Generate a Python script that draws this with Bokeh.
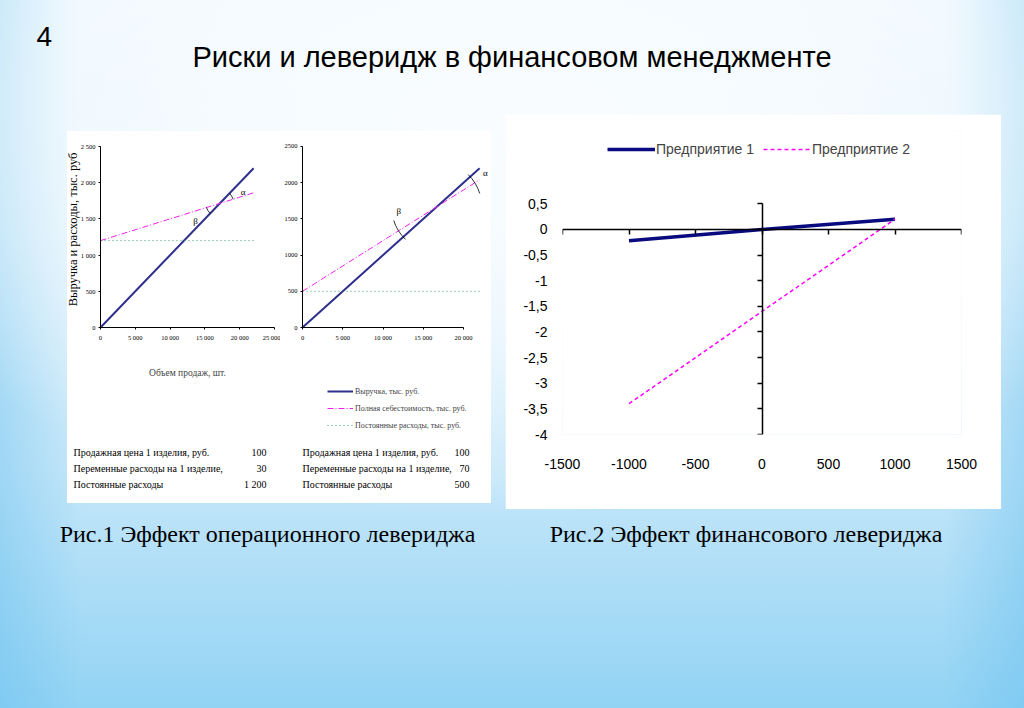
import math
from bokeh.plotting import figure
from bokeh.models import Range1d, LinearAxis, FixedTicker, Legend, LegendItem, Spacer
from bokeh.layouts import column, row
from bokeh.core.properties import value
from bokeh.embed import file_html
from bokeh.resources import INLINE

# ------------------------------------------------------------------ data
slide_number = "4"
slide_title = "Риски и леверидж в финансовом менеджменте"
caption1 = "Рис.1 Эффект операционного левериджа"
caption2 = "Рис.2 Эффект финансового левериджа"

# Fig. 1 - operating leverage (two firms)
volume = [0, 22000]
revenue = [0, 2200]
full_cost_a = [1200, 1860]
fixed_cost_a = [1200, 1200]
full_cost_b = [500, 2040]
fixed_cost_b = [500, 500]
op_y_ticks = [0, 500, 1000, 1500, 2000, 2500]
op_y_labels_a = ["0", "500", "1 000", "1 500", "2 000", "2 500"]
op_y_labels_b = ["0", "500", "1000", "1500", "2000", "2500"]
op_x_ticks_a = [0, 5000, 10000, 15000, 20000, 25000]
op_x_labels_a = ["0", "5 000", "10 000", "15 000", "20 000", "25 000"]
op_x_ticks_b = [0, 5000, 10000, 15000, 20000]
op_x_labels_b = ["0", "5 000", "10 000", "15 000", "20 000"]
op_x_title = "Объем продаж, шт."
op_y_title = "Выручка и расходы, тыс. руб"
op_legend = ["Выручка, тыс. руб.", "Полная себестоимость, тыс. руб.",
             "Постоянные расходы, тыс. руб."]
table_labels = ["Продажная цена 1 изделия, руб.", "Переменные расходы на 1 изделие,",
                "Постоянные расходы"]
table_values_a = ["100", "30", "1 200"]
table_values_b = ["100", "70", "500"]

# Fig. 2 - financial leverage
fin_x = [-1000, 0, 1000]
firm1 = [-0.22, 0.0, 0.2]
firm2 = [-3.4, -1.6, 0.2]
fin_series = ["Предприятие 1", "Предприятие 2"]
fin_x_ticks = [-1500, -1000, -500, 0, 500, 1000, 1500]
fin_x_labels = ["-1500", "-1000", "-500", "0", "500", "1000", "1500"]
fin_y_ticks = [0.5, 0, -0.5, -1, -1.5, -2, -2.5, -3, -3.5, -4]
fin_y_labels = ["0,5", "0", "-0,5", "-1", "-1,5", "-2", "-2,5", "-3", "-3,5", "-4"]

# ------------------------------------------------------------------ styles
SERIF = "Liberation Serif"
SANS = "Liberation Sans"
BLUE_OP = "#2e2e8c"
MAGENTA = "#f020f0"
GREEN = "#3c9a6c"
OP_Y_RANGE = (-1450, 2707)   # frame spans the whole chart area, incl. the legend space


def canvas(w, h, white=False):
    p = figure(width=w, height=h, x_range=Range1d(0, w), y_range=Range1d(h, 0),
               output_backend="svg", toolbar_location=None, tools="",
               x_axis_location=None, y_axis_location=None, min_border=0)
    p.xgrid.visible = False
    p.ygrid.visible = False
    p.outline_line_color = None
    if white:
        p.background_fill_color = "white"
        p.border_fill_color = "white"
    else:
        p.background_fill_alpha = 0
        p.border_fill_alpha = 0
    return p


def style_axis(ax, ticks, labels, size, font):
    ax.ticker = FixedTicker(ticks=ticks)
    ax.major_label_overrides = {t: l for t, l in zip(ticks, labels)}
    ax.major_label_text_font = font
    ax.major_label_text_font_size = size
    ax.major_label_text_color = "black"
    ax.minor_tick_line_color = None
    ax.axis_line_color = "black"
    ax.major_tick_line_color = "black"


def breakeven(x, r, c):
    # intersection of the two straight lines (annotation anchor only)
    sr = (r[1] - r[0]) / (x[1] - x[0])
    sc = (c[1] - c[0]) / (x[1] - x[0])
    bx = (c[0] - r[0]) / (sr - sc)
    return bx, r[0] + sr * bx


def op_chart(width, x_start, x_end, x_ticks, x_labels, y_labels, full_cost, fixed_cost,
             arc_r, alpha_pos, beta_pos, x_bounds, x_title=None):
    # axes cross at (0, 0) inside a frame that spans the whole chart area
    p = figure(width=width, height=304, x_range=Range1d(x_start, x_end),
               y_range=Range1d(*OP_Y_RANGE), output_backend="svg", toolbar_location=None,
               tools="", min_border_left=0, min_border_right=0,
               min_border_top=0, min_border_bottom=3)
    p.background_fill_color = "white"
    p.border_fill_color = "white"
    p.outline_line_color = None
    p.xgrid.visible = False
    p.ygrid.visible = False
    style_axis(p.xaxis[0], x_ticks, x_labels, "6.5px", SERIF)
    style_axis(p.yaxis[0], op_y_ticks, y_labels, "6.5px", SERIF)
    for ax in (p.xaxis[0], p.yaxis[0]):
        ax.major_tick_out = 2
        ax.major_tick_in = 0
        ax.fixed_location = 0
    p.yaxis[0].major_label_standoff = 3
    p.xaxis[0].major_label_standoff = 4
    p.yaxis[0].bounds = (0, 2500)
    p.xaxis[0].bounds = x_bounds
    if x_title:
        p.xaxis[0].axis_label = x_title
        p.xaxis[0].axis_label_text_font = SERIF
        p.xaxis[0].axis_label_text_font_size = "9.5px"
        p.xaxis[0].axis_label_text_font_style = "normal"
        p.xaxis[0].axis_label_standoff = 24
    r_rev = p.line(volume, revenue, line_color=BLUE_OP, line_width=2)
    r_full = p.line(volume, full_cost, line_color=MAGENTA, line_width=1, line_dash="6 2 1 2")
    r_fix = p.line(volume, fixed_cost, line_color=GREEN, line_width=1, line_dash="1 3")
    bx, by = breakeven(volume, revenue, full_cost)
    p.arc(x=[bx, bx], y=[by, by], radius=arc_r,
          start_angle=[0.30, 3.45], end_angle=[0.80, 3.95],
          line_color="black", line_width=0.8)
    p.text(x=[alpha_pos[0], beta_pos[0]], y=[alpha_pos[1], beta_pos[1]], text=["α", "β"],
           text_font=value(SERIF), text_font_size="9px", text_align="center",
           text_baseline="middle", text_color="black")
    return p, (r_rev, r_full, r_fix)


chart_a, _ = op_chart(213, -4741, 25862, op_x_ticks_a, op_x_labels_a, op_y_labels_a,
                      full_cost_a, fixed_cost_a, 2000, (20500, 1865), (13650, 1474),
                      (0, 25000), x_title=op_x_title)
chart_a.text(x=[-3879], y=[1354], text=[op_y_title], angle=math.pi / 2, text_font=value(SERIF),
             text_font_size="12.5px", text_align="center", text_baseline="middle",
             text_color="black")
chart_b, rends_b = op_chart(211, -2733, 23474, op_x_ticks_b, op_x_labels_b, op_y_labels_b,
                            full_cost_b, fixed_cost_b, 5600, (22700, 2135), (11960, 1606),
                            (0, 20000))
leg_op = Legend(items=[LegendItem(label=l, renderers=[r]) for l, r in zip(op_legend, rends_b)],
                location=(47, 2), orientation="vertical",
                glyph_width=26, glyph_height=10, label_height=10, spacing=7,
                label_standoff=2, padding=0, margin=0,
                label_text_font=SERIF, label_text_font_size="8px",
                background_fill_alpha=0, border_line_color=None)
chart_b.add_layout(leg_op, "center")

# tables under the charts
tables = canvas(424, 68, white=True)
row_y = [17, 33, 49]
for xs, txt, align in ((6, table_labels, "left"), (199, table_values_a, "right"),
                       (235, table_labels, "left"), (402, table_values_b, "right")):
    tables.text(x=[xs] * 3, y=row_y, text=txt, text_font=value(SERIF), text_font_size="10px",
                text_align=align, text_baseline="middle", text_color="black")

left_panel = column(row(chart_a, chart_b), tables, styles={"background": "white"})

# ------------------------------------------------------------------ Fig. 2
fin = figure(width=496, height=395, x_range=Range1d(-1500, 1500), y_range=Range1d(-4, 1.93),
             output_backend="svg", toolbar_location=None, tools="",
             min_border_left=57, min_border_right=40, min_border_top=16, min_border_bottom=75)
fin.background_fill_color = "white"
fin.border_fill_color = "white"
fin.outline_line_color = None
fin.xgrid.visible = False
fin.ygrid.visible = False
for ax, ticks, labels, standoff in ((fin.xaxis[0], fin_x_ticks, fin_x_labels, 18),
                                    (fin.yaxis[0], fin_y_ticks, fin_y_labels, 9)):
    style_axis(ax, ticks, labels, "14px", SANS)
    ax.axis_line_color = None
    ax.major_tick_line_color = None
    ax.major_label_standoff = standoff

x_cross = LinearAxis(fixed_location=0, ticker=FixedTicker(ticks=fin_x_ticks),
                     major_label_overrides={t: "" for t in fin_x_ticks},
                     major_tick_in=5, major_tick_out=0, minor_tick_line_color=None,
                     axis_line_color="black", axis_line_width=1.5, major_tick_line_width=1.5)
y_cross = LinearAxis(fixed_location=0, ticker=FixedTicker(ticks=fin_y_ticks), bounds=(-4, 0.5),
                     major_label_overrides={t: "" for t in fin_y_ticks},
                     major_tick_in=5, major_tick_out=0, minor_tick_line_color=None,
                     axis_line_color="black", axis_line_width=1.5, major_tick_line_width=1.5)
fin.add_layout(x_cross, "above")
fin.add_layout(y_cross, "right")

r1 = fin.line(fin_x, firm1, line_color="#0a0a80", line_width=3.5)
r2 = fin.line(fin_x, firm2, line_color="#ff00ff", line_width=1.5, line_dash="4 3")
leg_fin = Legend(items=[LegendItem(label=fin_series[0], renderers=[r1]),
                        LegendItem(label=fin_series[1], renderers=[r2])],
                 location=(45, 275), orientation="horizontal",
                 glyph_width=48, glyph_height=20, label_height=20, spacing=9,
                 label_standoff=1, padding=0, margin=0,
                 label_text_font=SANS, label_text_font_size="14px",
                 background_fill_alpha=0, border_line_color=None)
fin.add_layout(leg_fin, "center")

# ------------------------------------------------------------------ header / footer
header = canvas(1024, 114)
header.text(x=[36], y=[36], text=[slide_number], text_font=value(SANS), text_font_size="28px",
            text_align="left", text_baseline="middle", text_color="black")
header.text(x=[511.5], y=[56], text=[slide_title], text_font=value(SANS), text_font_size="29px",
            text_align="center", text_baseline="middle", text_color="black")

footer = canvas(1024, 199)
footer.text(x=[267, 745.5], y=[24, 24], text=[caption1, caption2], text_font=value(SERIF),
            text_font_size="24px", text_align="center", text_baseline="middle", text_color="black")

left_col = column(Spacer(width=424, height=17), left_panel, Spacer(width=424, height=6))
middle = row(Spacer(width=67, height=395), left_col, Spacer(width=14, height=395), fin,
             Spacer(width=23, height=395))

bg = ("radial-gradient(ellipse 70% 55% at 50% 18%, rgba(250,253,255,1) 0%, "
      "rgba(246,251,255,0.8) 45%, rgba(246,251,255,0) 100%), "
      "linear-gradient(90deg, rgba(100,190,238,0.4) 0%, rgba(100,190,238,0) 8%, "
      "rgba(100,190,238,0) 92%, rgba(100,190,238,0.4) 100%), "
      "linear-gradient(180deg, #f0f9fe 0%, #e6f4fc 33%, #c6e7f9 66%, #92d3f4 100%)")
root = column(header, middle, footer, styles={"background": bg})

open("out.html", "w").write(file_html(root, INLINE))
